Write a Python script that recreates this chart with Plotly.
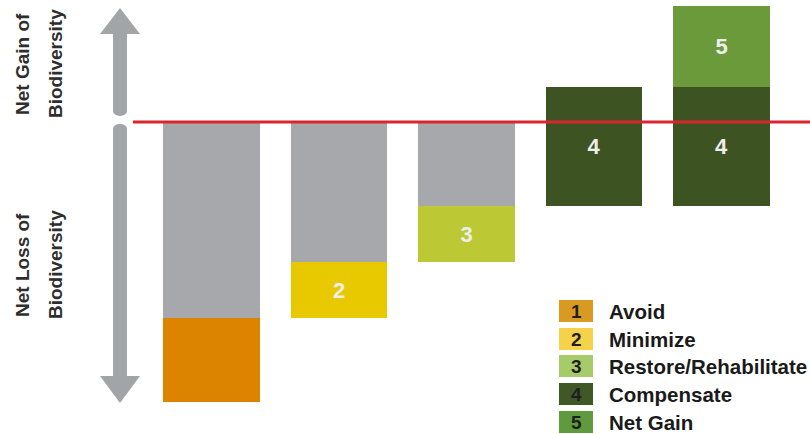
import plotly.graph_objects as go

W, H = 810, 434

# ---- data ----
stages = [0, 1, 2, 3, 4]
loss_remaining = [-7.0, -5.0, -3.0]          # gray residual loss after each step
avoid_base, avoid_len = [-7.0], [-3.0]
minimize_base, minimize_len = [-5.0], [-2.0]
restore_base, restore_len = [-3.0], [-2.0]
comp_base, comp_len = [-3.0, -3.0], [4.25, 4.25]
gain_base, gain_len = [1.25], [2.9]

legend_nums = ["1", "2", "3", "4", "5"]
legend_labels = ["Avoid", "Minimize", "Restore/Rehabilitate", "Compensate", "Net Gain"]
legend_colors = ["#d99a22", "#f5d24a", "#a6cc6a", "#3f5826", "#5f9a3e"]

bar_colors = {"gray": "#a6a8ab", "avoid": "#dc8300", "minimize": "#e8c900",
              "restore": "#bcc934", "comp": "#3d5422", "gain": "#6a9a3a"}

BW = 0.76
lab_font = dict(family="Liberation Sans, Arial, sans-serif", size=22, color="#eeeeee", weight="bold")

fig = go.Figure()

def add(x, base, y, color, text=None):
    fig.add_trace(go.Bar(
        x=x, y=y, base=base, width=BW, marker=dict(color=color, line=dict(width=0)),
        text=text, textposition="inside" if text else "none", insidetextanchor="middle",
        textangle=0, textfont=lab_font, hoverinfo="skip", showlegend=False))

add(stages[:3], [0, 0, 0], loss_remaining, bar_colors["gray"])
add([stages[0]], avoid_base, avoid_len, bar_colors["avoid"])
add([stages[1]], minimize_base, minimize_len, bar_colors["minimize"], ["2"])
add([stages[2]], restore_base, restore_len, bar_colors["restore"], ["3"])
add(stages[3:5], comp_base, comp_len, bar_colors["comp"], ["4", "4"])
add([stages[4]], gain_base, gain_len, bar_colors["gain"], ["5"])

def px(x):
    return x / W

def py(y):
    return 1 - y / H

shapes = []
gray = "#a2a5a8"
# up arrow
shapes.append(dict(type="path", xref="paper", yref="paper",
                   path=f"M {px(100)},{py(34)} L {px(120)},{py(8)} L {px(140)},{py(34)} Z",
                   fillcolor=gray, line=dict(width=0)))
shapes.append(dict(type="rect", xref="paper", yref="paper",
                   x0=px(113), x1=px(127), y0=py(112), y1=py(33),
                   fillcolor=gray, line=dict(width=0)))
shapes.append(dict(type="circle", xref="paper", yref="paper",
                   x0=px(113), x1=px(127), y0=py(116), y1=py(106),
                   fillcolor=gray, line=dict(width=0)))
# down arrow
shapes.append(dict(type="circle", xref="paper", yref="paper",
                   x0=px(113), x1=px(127), y0=py(133), y1=py(124),
                   fillcolor=gray, line=dict(width=0)))
shapes.append(dict(type="rect", xref="paper", yref="paper",
                   x0=px(113), x1=px(127), y0=py(377), y1=py(129),
                   fillcolor=gray, line=dict(width=0)))
shapes.append(dict(type="path", xref="paper", yref="paper",
                   path=f"M {px(100)},{py(376)} L {px(120)},{py(403)} L {px(140)},{py(376)} Z",
                   fillcolor=gray, line=dict(width=0)))
# red zero line
shapes.append(dict(type="line", xref="paper", yref="y", x0=px(133), x1=1, y0=0, y1=0,
                   line=dict(color="#d9262e", width=3), layer="above"))

annotations = []
side_font = dict(family="Liberation Sans, Arial, sans-serif", size=19, color="#2e2e2e", weight="bold")
for txt, xc, yc in [("Net Gain of", 22, 64), ("Biodiversity", 55, 64),
                    ("Net Loss of", 22, 265), ("Biodiversity", 55, 265)]:
    annotations.append(dict(text=txt, x=px(xc), y=py(yc), xref="paper", yref="paper",
                            showarrow=False, textangle=-90, font=side_font,
                            xanchor="center", yanchor="middle"))

# legend
row_top = [300, 328, 355, 383, 411]
for i, (n, lab, col) in enumerate(zip(legend_nums, legend_labels, legend_colors)):
    t = row_top[i]
    shapes.append(dict(type="rect", xref="paper", yref="paper",
                       x0=px(559), x1=px(593), y0=py(t + 22), y1=py(t),
                       fillcolor=col, line=dict(width=0)))
    annotations.append(dict(text=n, x=px(576), y=py(t + 11), xref="paper", yref="paper",
                            showarrow=False, xanchor="center", yanchor="middle",
                            font=dict(family="Liberation Sans, Arial, sans-serif", size=19,
                                      color="#1e1e1e", weight="bold")))
    annotations.append(dict(text=lab, x=px(607), y=py(t + 11), xref="paper", yref="paper",
                            showarrow=False, xanchor="left", yanchor="middle",
                            font=dict(family="Liberation Sans, Arial, sans-serif", size=20.5,
                                      color="#1a1a1a", weight="bold")))

fig.update_layout(
    width=W, height=H, margin=dict(l=0, r=0, t=0, b=0),
    paper_bgcolor="white", plot_bgcolor="white",
    barmode="overlay", bargap=0,
    xaxis=dict(range=[-1.659, 4.694], visible=False, fixedrange=True),
    yaxis=dict(range=[-11.143, 4.357], visible=False, fixedrange=True),
    shapes=shapes, annotations=annotations, showlegend=False,
)

fig.write_html("out.html", config={"displayModeBar": False})
